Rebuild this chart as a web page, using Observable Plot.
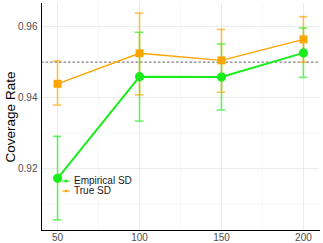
<!DOCTYPE html>
<html><head><meta charset="utf-8">
<script src="https://cdn.jsdelivr.net/npm/d3@7"></script>
<script src="https://cdn.jsdelivr.net/npm/@observablehq/plot@0.6"></script>
<style>
body{margin:0;background:#fff;}
#wrap{position:relative;width:323px;height:243px;font-family:"Liberation Sans",Arial,sans-serif;}
.legend{position:absolute;left:62px;top:176px;font-size:10px;color:#1a1a1a;line-height:10px;}
.legend .row{display:flex;align-items:center;height:10px;}
.legend svg{margin-right:4px;}
</style></head><body><div id="wrap"></div>
<script>
const sampleSizes=[50,100,150,200];
const empiricalRate=[0.9173,0.9459,0.9458,0.9526];
const empiricalLower=[0.9056,0.9334,0.9365,0.9457];
const empiricalUpper=[0.9291,0.9584,0.9551,0.9596];
const trueRate=[0.9439,0.9525,0.9505,0.9564];
const trueLower=[0.9379,0.9408,0.9415,0.9500];
const trueUpper=[0.9503,0.9638,0.9592,0.9628];
const nominal=0.95;
const yTicks=[0.92,0.94,0.96];
const yMinor=[0.91,0.93,0.95];
const xTicks=[50,100,150,200];
const xMinor=[75,125,175];
const seriesNames=["Empirical SD","True SD"];
const seriesColors=["#1aee1a","#ffa500"];
const capHalf=2.6;

const emp=sampleSizes.map((n,i)=>({n,rate:empiricalRate[i],lo:empiricalLower[i],hi:empiricalUpper[i]}));
const tru=sampleSizes.map((n,i)=>({n,rate:trueRate[i],lo:trueLower[i],hi:trueUpper[i]}));

function errMarks(data,color){
  return [
    Plot.ruleX(data,{x:"n",y1:"lo",y2:"hi",stroke:color,strokeOpacity:0.65,strokeWidth:1.6}),
    Plot.ruleY(data,{y:"lo",x1:d=>d.n-capHalf,x2:d=>d.n+capHalf,stroke:color,strokeOpacity:0.65,strokeWidth:1.6}),
    Plot.ruleY(data,{y:"hi",x1:d=>d.n-capHalf,x2:d=>d.n+capHalf,stroke:color,strokeOpacity:0.65,strokeWidth:1.6})
  ];
}

const chart=Plot.plot({
  width:323,height:243,
  marginLeft:41,marginRight:4,marginTop:3,marginBottom:13,
  style:{fontFamily:"'Liberation Sans',Arial,sans-serif",background:"#fff"},
  x:{domain:[40.2,209.8]},
  y:{domain:[0.9026,0.9665]},
  marks:[
    Plot.ruleY(yMinor,{stroke:"#f4f4f4",strokeWidth:0.6}),
    Plot.ruleX(xMinor,{stroke:"#f4f4f4",strokeWidth:0.6}),
    Plot.ruleY(yTicks,{stroke:"#ebebeb",strokeWidth:1}),
    Plot.ruleX(xTicks,{stroke:"#ebebeb",strokeWidth:1}),
    Plot.ruleY([nominal],{stroke:"#666",strokeDasharray:"2.5,2",strokeWidth:1}),
    ...errMarks(emp,seriesColors[0]),
    ...errMarks(tru,seriesColors[1]),
    Plot.line(emp,{x:"n",y:"rate",stroke:seriesColors[0],strokeWidth:2}),
    Plot.line(tru,{x:"n",y:"rate",stroke:seriesColors[1],strokeWidth:1.4}),
    Plot.dot(emp,{x:"n",y:"rate",fill:seriesColors[0],r:4.6,stroke:null}),
    Plot.dot(tru,{x:"n",y:"rate",fill:seriesColors[1],symbol:"square",r:4.5,stroke:null}),
    Plot.axisX({ticks:xTicks,tickSize:0,tickPadding:3,fontSize:10,color:"#4d4d4d",label:null}),
    Plot.axisY({ticks:yTicks,tickSize:0,tickPadding:4,fontSize:10,color:"#4d4d4d",label:null,tickFormat:d=>d.toFixed(2)}),
    Plot.axisY({ticks:[],label:"Coverage Rate",labelAnchor:"center",labelArrow:"none",labelOffset:36,fontSize:13.5,color:"#000"}),
    Plot.frame({anchor:"left",stroke:"#000",strokeWidth:1}),
    Plot.frame({anchor:"bottom",stroke:"#000",strokeWidth:1})
  ]
});
const wrap=document.getElementById("wrap");
wrap.appendChild(chart);

const leg=document.createElement("div");
leg.className="legend";
seriesNames.forEach((name,i)=>{
  const row=document.createElement("div");
  row.className="row";
  row.innerHTML=`<svg width="8" height="6"><line x1="0" x2="8" y1="3" y2="3" stroke="${seriesColors[i]}" stroke-width="1"/>`+
    (i===0?`<circle cx="4" cy="3" r="1.6" fill="${seriesColors[i]}"/>`:`<rect x="2.8" y="1.8" width="2.4" height="2.4" fill="${seriesColors[i]}"/>`)+
    `</svg><span>${name}</span>`;
  leg.appendChild(row);
});
wrap.appendChild(leg);
</script></body></html>
